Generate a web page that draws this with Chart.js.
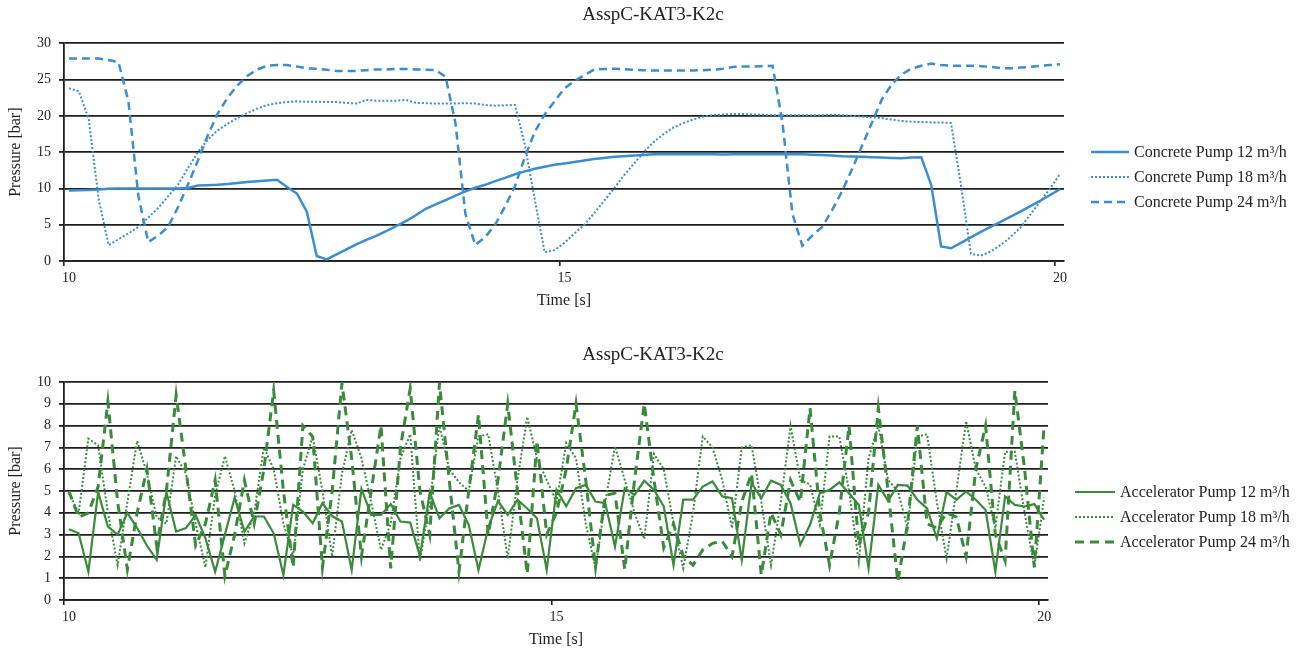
<!DOCTYPE html>
<html>
<head>
<meta charset="utf-8">
<script src="https://cdn.jsdelivr.net/npm/chart.js@4.4.1/dist/chart.umd.min.js"></script>
<style>
  body { margin: 0; background: #fff; width: 1306px; height: 654px; position: relative; overflow: hidden; }
  .box { position: absolute; left: 0; }
  .legend { position: absolute; font-family: "Liberation Serif", "Times New Roman", serif; font-size: 16px; color: #222; }
  .row { position: absolute; height: 20px; display: flex; align-items: center; white-space: nowrap; }
  .row svg { margin-right: 5px; }
</style>
</head>
<body>
<div class="box" style="top:0;width:1306px;height:320px"><canvas id="concrete" width="1306" height="320"></canvas></div>
<div class="box" style="top:325px;width:1306px;height:329px"><canvas id="accel" width="1306" height="329"></canvas></div>
<div class="legend" id="legendTop"></div>
<div class="legend" id="legendBottom"></div>
<script>
// time axis in seconds (both charts share it)
const time = [10.05, 10.15, 10.25, 10.35, 10.45, 10.55, 10.65, 10.75, 10.85, 10.95,
  11.05, 11.15, 11.25, 11.35, 11.45, 11.55, 11.65, 11.75, 11.85, 11.95,
  12.05, 12.15, 12.25, 12.35, 12.45, 12.55, 12.65, 12.75, 12.85, 12.95,
  13.05, 13.15, 13.25, 13.35, 13.45, 13.55, 13.65, 13.75, 13.85, 13.95,
  14.05, 14.15, 14.25, 14.35, 14.45, 14.55, 14.65, 14.75, 14.85, 14.95,
  15.05, 15.15, 15.25, 15.35, 15.45, 15.55, 15.65, 15.75, 15.85, 15.95,
  16.05, 16.15, 16.25, 16.35, 16.45, 16.55, 16.65, 16.75, 16.85, 16.95,
  17.05, 17.15, 17.25, 17.35, 17.45, 17.55, 17.65, 17.75, 17.85, 17.95,
  18.05, 18.15, 18.25, 18.35, 18.45, 18.55, 18.65, 18.75, 18.85, 18.95,
  19.05, 19.15, 19.25, 19.35, 19.45, 19.55, 19.65, 19.75, 19.85, 19.95, 20.05]

// Concrete pump pressure [bar]
const concrete12 = [9.7, 9.75, 9.8, 9.85, 9.95, 10.0, 10.0, 10.0, 10.0, 10.0,
  10.0, 10.0, 10.05, 10.4, 10.45, 10.5, 10.6, 10.75, 10.9, 11.0,
  11.1, 11.2, 10.2, 9.3, 6.8, 0.7, 0.23, 0.9, 1.6, 2.3,
  2.9, 3.45, 4.1, 4.8, 5.5, 6.3, 7.2, 7.8, 8.4, 9.0,
  9.6, 10.1, 10.5, 11.0, 11.45, 11.95, 12.35, 12.7, 13.0, 13.25,
  13.45, 13.65, 13.85, 14.05, 14.2, 14.35, 14.45, 14.55, 14.6, 14.7,
  14.7, 14.7, 14.7, 14.72, 14.7, 14.7, 14.68, 14.7, 14.7, 14.7,
  14.7, 14.7, 14.7, 14.7, 14.7, 14.65, 14.6, 14.55, 14.45, 14.4,
  14.35, 14.3, 14.25, 14.2, 14.15, 14.25, 14.3, 10.5, 2.0, 1.75,
  2.5, 3.25, 4.0, 4.7, 5.4, 6.1, 6.8, 7.55, 8.3, 9.1, 9.9]
const concrete18 = [23.8, 23.4, 19.5, 8.5, 2.2, 3.0, 3.8, 4.7, 6.0, 7.3,
  8.9, 10.5, 12.8, 15.0, 16.7, 18.0, 18.9, 19.7, 20.4, 21.0,
  21.5, 21.75, 21.9, 22.0, 21.95, 21.95, 21.9, 21.9, 21.8, 21.7,
  22.2, 22.1, 22.1, 22.1, 22.2, 21.8, 21.75, 21.7, 21.7, 21.7,
  21.75, 21.7, 21.5, 21.4, 21.45, 21.5, 16.0, 8.5, 1.2, 1.5,
  2.5, 3.8, 5.0, 6.6, 8.3, 10.0, 11.8, 13.4, 15.0, 16.4,
  17.5, 18.4, 19.0, 19.5, 19.9, 20.1, 20.2, 20.25, 20.25, 20.2,
  20.15, 20.1, 20.1, 20.1, 20.1, 20.1, 20.1, 20.15, 20.1, 20.0,
  19.9, 19.8, 19.7, 19.5, 19.3, 19.2, 19.15, 19.1, 19.1, 19.0,
  10.5, 1.0, 0.75, 1.3, 2.2, 3.3, 4.6, 6.4, 8.2, 10.0, 12.0]
const concrete24 = [27.9, 27.9, 27.9, 27.9, 27.7, 27.4, 22.0, 9.0, 2.6, 3.5,
  4.7, 7.4, 10.5, 13.8, 17.3, 20.3, 22.5, 24.2, 25.5, 26.4,
  26.9, 27.0, 27.0, 26.8, 26.55, 26.5, 26.35, 26.2, 26.2, 26.2,
  26.3, 26.4, 26.4, 26.45, 26.45, 26.4, 26.35, 26.3, 25.4, 19.0,
  6.5, 2.2, 3.3, 5.0, 7.5, 10.3, 14.3, 17.8, 20.2, 22.0,
  23.8, 24.8, 25.6, 26.4, 26.45, 26.5, 26.45, 26.35, 26.3, 26.25,
  26.25, 26.25, 26.25, 26.25, 26.3, 26.35, 26.5, 26.75, 26.8, 26.8,
  26.85, 26.9, 19.0, 6.5, 2.1, 3.5, 4.7, 7.0, 9.6, 12.6,
  15.8, 19.0, 22.2, 24.3, 25.7, 26.5, 26.9, 27.2, 27.0, 26.9,
  26.9, 26.9, 26.85, 26.75, 26.6, 26.55, 26.65, 26.75, 26.9, 27.0, 27.1]

// Accelerator pump pressure [bar]
const accel12 = [3.25, 3.06, 1.3, 4.95, 3.37, 3.0, 4.0, 3.3, 2.5, 1.84,
  4.95, 3.14, 3.3, 3.9, 2.83, 1.3, 3.0, 4.7, 3.14, 3.83,
  3.83, 3.06, 1.15, 4.36, 4.06, 3.52, 4.44, 3.85, 3.6, 1.38,
  5.1, 3.9, 3.9, 4.4, 3.6, 3.55, 2.0, 4.95, 3.75, 4.2,
  4.36, 3.45, 1.38, 3.3, 4.55, 3.9, 4.6, 4.2, 3.75, 1.38,
  5.05, 4.3, 5.13, 5.28, 4.52, 4.44, 2.45, 5.13, 4.82, 5.47,
  5.05, 4.3, 1.6, 4.6, 4.6, 5.2, 5.44, 4.75, 4.67, 1.84,
  5.36, 4.67, 5.47, 5.28, 4.44, 2.53, 3.45, 4.9, 5.05, 5.4,
  4.9, 4.36, 1.45, 5.28, 4.55, 5.28, 5.25, 4.6, 4.2, 2.83,
  4.95, 4.6, 4.98, 4.6, 4.13, 1.3, 4.75, 4.36, 4.29, 4.4, 3.68]
const accel18 = [4.9, 4.0, 7.4, 7.1, 4.0, 1.6, 4.5, 7.3, 5.8, 3.8,
  3.5, 6.6, 5.8, 3.5, 1.5, 4.8, 6.6, 5.0, 2.6, 4.0,
  7.0, 6.0, 3.5, 2.0, 6.0, 7.5, 5.0, 2.0, 5.8, 7.8,
  6.5, 4.5, 2.3, 3.5, 6.5, 7.6, 1.8, 4.5, 8.0, 6.0,
  5.4, 5.0, 7.5, 7.6, 5.0, 1.9, 5.5, 8.4, 6.5, 5.5,
  4.5, 7.2, 6.5, 3.5, 1.45, 4.5, 7.05, 5.5, 4.0, 2.8,
  6.7, 6.0, 3.5, 1.45, 4.0, 7.5, 7.0, 5.5, 3.3, 7.0,
  7.1, 4.5, 1.6, 4.5, 8.0, 5.5, 5.3, 3.45, 7.5, 7.5,
  5.0, 1.76, 6.5, 8.0, 5.5, 5.0, 3.3, 7.5, 7.6, 4.5,
  1.9, 5.0, 8.2, 6.0, 5.2, 3.3, 6.8, 6.8, 4.0, 1.5, 4.7]
const accel24 = [5.0, 3.8, 4.0, 5.2, 9.1, 4.5, 1.4, 4.0, 6.0, 2.5,
  5.0, 9.4, 6.0, 2.5, 3.5, 5.5, 1.1, 3.0, 5.5, 3.5,
  6.0, 9.6, 5.0, 1.5, 8.0, 7.5, 1.5, 5.0, 9.95, 6.5,
  2.0, 5.0, 8.0, 1.45, 7.0, 9.7, 5.0, 3.0, 9.95, 5.5,
  1.3, 5.0, 8.5, 3.0, 5.5, 9.0, 5.0, 1.2, 7.3, 3.0,
  4.0, 6.0, 9.0, 5.5, 1.5, 4.8, 4.9, 1.4, 5.5, 9.0,
  5.5, 2.4, 3.5, 2.0, 1.6, 2.3, 2.6, 2.7, 2.0, 4.5,
  5.8, 1.15, 4.0, 3.0, 5.5, 4.5, 8.8, 4.0, 1.6, 4.0,
  8.0, 2.5, 4.0, 8.8, 5.0, 0.85, 3.5, 8.0, 3.5, 3.3,
  4.0, 3.8, 2.0, 6.0, 8.0, 3.0, 1.8, 9.6, 6.0, 1.5, 8.0]

const concreteLabels = ['Concrete Pump 12 m³/h', 'Concrete Pump 18 m³/h', 'Concrete Pump 24 m³/h']
const accelLabels = ['Accelerator Pump 12 m³/h', 'Accelerator Pump 18 m³/h', 'Accelerator Pump 24 m³/h']
const chartTitle = 'AsspC-KAT3-K2c'

const BLUE = '#3b8dd0'
const GREEN = '#3a8a3c'
const GRID = '#1e1e1e'
const FONT = '"Liberation Serif", "Times New Roman", serif'

const points = arr => time.map((t, i) => ({ x: t, y: arr[i] }))

function line(label, arr, color, width, dash) {
  return {
    label: label,
    data: points(arr),
    borderColor: color,
    backgroundColor: color,
    borderWidth: width,
    borderDash: dash,
    pointRadius: 0,
    tension: 0,
    fill: false
  }
}

function makeOptions(yMax, yStep, titlePad, bottomPad, rightRoom) {
  return {
    responsive: false,
    animation: false,
    layout: { padding: { left: 0, right: 0, top: 0, bottom: bottomPad } },
    plugins: {
      legend: { display: false },
      tooltip: { enabled: false },
      title: {
        display: true,
        text: chartTitle,
        color: '#222',
        font: { family: FONT, size: 19, weight: 'normal' },
        padding: titlePad
      }
    },
    scales: {
      x: {
        type: 'linear',
        min: 10,
        max: 20.09,
        grid: { drawOnChartArea: false, drawTicks: true, tickLength: 5, color: GRID, lineWidth: 1.6 },
        border: { display: true, color: GRID, width: 1.8 },
        ticks: { stepSize: 5, includeBounds: false, padding: 4, labelOffset: 5, color: '#222', maxRotation: 0,
                 font: { family: FONT, size: 14 } },
        title: { display: true, text: 'Time [s]', color: '#222', font: { family: FONT, size: 16 },
                 padding: { top: 0, bottom: 2.4 } },
        afterFit: s => { s.height = 52 }
      },
      y: {
        min: 0,
        max: yMax,
        grid: { color: GRID, lineWidth: 1.8, tickLength: 5 },
        border: { display: true, color: GRID, width: 1.8 },
        ticks: { stepSize: yStep, padding: 8, color: '#222', font: { family: FONT, size: 14 } },
        title: { display: true, text: 'Pressure [bar]', color: '#222', font: { family: FONT, size: 16 },
                 padding: { top: 6, bottom: 0 } },
        afterFit: s => { s.width = 64 }
      },
      // empty axis that only reserves the room on the right where the legend sits
      pad: {
        type: 'linear',
        position: 'right',
        display: true,
        grid: { display: false, drawTicks: false },
        border: { display: false },
        ticks: { display: false },
        afterFit: s => { s.width = rightRoom }
      }
    }
  }
}

new Chart(document.getElementById('concrete'), {
  type: 'line',
  data: {
    datasets: [
      line(concreteLabels[0], concrete12, BLUE, 2.5, []),
      line(concreteLabels[1], concrete18, BLUE, 2, [2, 2]),
      line(concreteLabels[2], concrete24, BLUE, 2.5, [8, 5])
    ]
  },
  options: makeOptions(30, 5, { top: 4, bottom: 16.5 }, 7, 242)
})

new Chart(document.getElementById('accel'), {
  type: 'line',
  data: {
    datasets: [
      line(accelLabels[0], accel12, GREEN, 2.2, []),
      line(accelLabels[1], accel18, GREEN, 2, [2, 2]),
      line(accelLabels[2], accel24, GREEN, 3, [9, 6])
    ]
  },
  options: makeOptions(10, 1, { top: 18.6, bottom: 15.6 }, 2, 258)
})

// legends: short line sample + label, placed like the original
function buildLegend(el, labels, color, x, ys, swatchW, widths, dashes) {
  labels.forEach((label, i) => {
    const row = document.createElement('div')
    row.className = 'row'
    row.style.left = x + 'px'
    row.style.top = (ys[i] - 10) + 'px'
    row.innerHTML = `<svg width="${swatchW}" height="6"><line x1="0" y1="3" x2="${swatchW}" y2="3"
      stroke="${color}" stroke-width="${widths[i]}" stroke-dasharray="${dashes[i]}"/></svg><span>${label}</span>`
    el.appendChild(row)
  })
}

buildLegend(document.getElementById('legendTop'), concreteLabels, BLUE, 1091, [152, 177, 202], 38,
  [2.5, 2, 2.5], ['none', '2 2', '8 5'])
buildLegend(document.getElementById('legendBottom'), accelLabels, GREEN, 1075, [492, 517, 542], 40,
  [2.2, 2, 3], ['none', '2 2', '9 6'])
</script>
</body>
</html>
